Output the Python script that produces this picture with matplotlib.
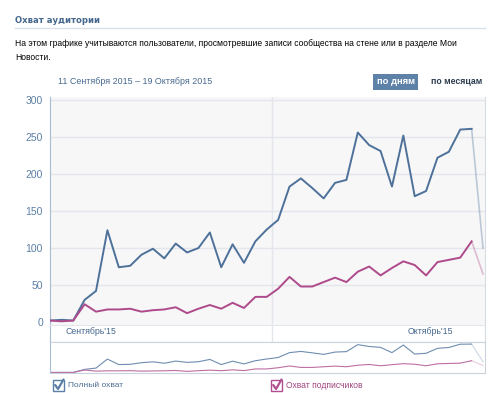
import matplotlib
matplotlib.use("Agg")
import matplotlib.pyplot as plt
from matplotlib.patches import Rectangle
from matplotlib.lines import Line2D
import numpy as np

plt.rcParams['font.family'] = ['Liberation Sans', 'DejaVu Sans']

# ---------------- data ----------------
full_reach = [2, 3, 2, 30, 42, 124, 74, 76, 91, 99, 86, 106, 94, 100, 121, 74, 105, 80,
              109, 125, 138, 183, 194, 181, 167, 188, 192, 256, 239, 231, 183, 252, 170,
              177, 222, 230, 260, 261, 100]
subs_reach = [2, 1, 2, 24, 14, 17, 17, 18, 14, 16, 17, 20, 12, 18, 23, 18, 26, 19,
              34, 34, 45, 61, 48, 48, 54, 60, 54, 68, 75, 63, 73, 82, 77, 63, 81, 84,
              87, 109, 65]
y_ticks = [0, 50, 100, 150, 200, 250, 300]
month_labels = ["Сентябрь'15", "Октябрь'15"]
title = "Охват аудитории"
desc1 = "На этом графике учитываются пользователи, просмотревшие записи сообщества на стене или в разделе Мои"
desc2 = "Новости."
date_range = "11 Сентября 2015 – 19 Октября 2015"
legend_labels = ["Полный охват", "Охват подписчиков"]

BLUE = '#4D7199'
PINK = '#AE4A8B'
TXT_BLUE = '#45688E'
GRID = '#E3E7EC'
BORDER = '#D5DCE4'

W, H = 500, 393
fig = plt.figure(figsize=(W / 100, H / 100), dpi=100)
fig.patch.set_facecolor('white')
renderer = fig.canvas.get_renderer()

def fx(x):
    return x / W

def fy(y):
    return 1 - y / H

def fit_text(x0, x1, y, s, ha='left', **kw):
    t = fig.text(fx(x0), fy(y), s, fontsize=10, va='center', ha='left', **kw)
    w = t.get_window_extent(renderer=renderer).width
    t.set_fontsize(10 * (x1 - x0) / w)
    if ha == 'center':
        t.set_x(fx((x0 + x1) / 2))
        t.set_ha('center')
    return t

def add_ax(x0, y0, x1, y1, **kw):
    return fig.add_axes([fx(x0), fy(y1), fx(x1) - fx(x0), fy(y0) - fy(y1)], **kw)

n = len(full_reach)
x = np.arange(n)
px0, px1 = 50.5, 483.0
step = (px1 - px0) / (n - 1)
AX_L, AX_R = 50, 485
xlim = ((AX_L - px0) / step, (AX_R - px0) / step)

# ---------------- header ----------------
fit_text(15, 100, 20.5, title, fontweight='bold', color=TXT_BLUE, family='DejaVu Sans')
fig.add_artist(Line2D([fx(15), fx(485)], [fy(27.5), fy(27.5)], color='#DAE1E8', lw=1))
t = fit_text(15, 458, 43.5, desc1, color='#000000')
fig.text(fx(15), fy(57.5), desc2, fontsize=t.get_fontsize(), color='#000000', va='center', ha='left')
fit_text(58, 211, 81.5, date_range, color=TXT_BLUE)

fig.add_artist(Rectangle((fx(373), fy(90)), fx(418) - fx(373), fy(74) - fy(90),
                         facecolor='#5E81A8', edgecolor='none', transform=fig.transFigure))
fit_text(377, 415, 82, "по дням", ha='center', fontweight='bold', color='white')
fit_text(431, 482, 82, "по месяцам", fontweight='bold', color='#2B3B4E')

# ---------------- main chart ----------------
ax = add_ax(AX_L, 97, AX_R, 325)
ax.set_facecolor('#F7F7F8')
ax.set_xlim(*xlim)
ax.set_ylim(-4, 304)
for v in y_ticks[1:]:
    ax.axhline(v, color=GRID, lw=1, zorder=1)
ax.axvline(19.5, color=GRID, lw=1, zorder=1)

ax.plot(x[:-1], full_reach[:-1], color=BLUE, lw=1.4, zorder=3)
ax.plot(x[-2:], full_reach[-2:], color=BLUE, lw=1.2, alpha=0.35, zorder=3)
ax.plot(x[:-1], subs_reach[:-1], color=PINK, lw=1.4, zorder=4)
ax.plot(x[-2:], subs_reach[-2:], color=PINK, lw=1.2, alpha=0.35, zorder=4)

ax.set_yticks(y_ticks)
ax.set_yticklabels([str(v) for v in y_ticks])
ax.tick_params(axis='y', length=0, pad=5, labelsize=7.5, labelcolor='#5B7FA6')
ax.set_xticks([])
for s in ['top', 'bottom']:
    ax.spines[s].set_visible(False)
ax.spines['left'].set_color('#A9BBD0')
ax.spines['right'].set_color(BORDER)

# ---------------- month label band ----------------
band = add_ax(AX_L, 325, AX_R, 342)
band.set_facecolor('white')
band.set_xlim(*xlim)
band.set_ylim(0, 1)
band.set_xticks([])
band.set_yticks([])
band.axvline(19.5, color=GRID, lw=1)
band.spines['left'].set_color('#A9BBD0')
band.spines['right'].set_color(BORDER)
band.spines['top'].set_color(GRID)
band.spines['bottom'].set_color('#C9D3DE')
t1 = fit_text(65, 113, 332, month_labels[0], color=TXT_BLUE)
t2 = fit_text(408, 455, 332, month_labels[1], color=TXT_BLUE)
fs = (t1.get_fontsize() + t2.get_fontsize()) / 2
t1.set_fontsize(fs)
t2.set_fontsize(fs)

# ---------------- navigator ----------------
nav = add_ax(AX_L, 342, AX_R, 373)
nav.set_facecolor('white')
nav.set_xlim(*xlim)
nav.set_ylim(-3, 280)
nav.plot(x[:-1], full_reach[:-1], color='#6F8DB0', lw=0.8)
nav.plot(x[-2:], full_reach[-2:], color='#6F8DB0', lw=0.8, alpha=0.35)
nav.plot(x[:-1], subs_reach[:-1], color='#BD6FA2', lw=0.8)
nav.plot(x[-2:], subs_reach[-2:], color='#BD6FA2', lw=0.8, alpha=0.35)
nav.set_xticks([])
nav.set_yticks([])
for s in nav.spines.values():
    s.set_color('#C9D3DE')
nav.spines['left'].set_color('#A9BBD0')

# ---------------- legend checkboxes ----------------
def checkbox(x0, color, label, tcolor, x1):
    fig.add_artist(Rectangle((fx(x0), fy(391)), fx(x0 + 11) - fx(x0), fy(380) - fy(391),
                             facecolor='white', edgecolor=color, lw=1.0, transform=fig.transFigure))
    fig.add_artist(Line2D([fx(x0 + 2.2), fx(x0 + 5), fx(x0 + 10.5)],
                          [fy(385), fy(389), fy(379.5)], color=color, lw=1.6,
                          transform=fig.transFigure, solid_capstyle='round'))
    fit_text(x0 + 15, x1, 385.5, label, color=tcolor)

checkbox(53, '#5B7FA6', legend_labels[0], '#4E6E94', 123)
checkbox(271, '#B04F8F', legend_labels[1], '#A0437F', 363)

fig.savefig('out.png', dpi=100, facecolor='white')
